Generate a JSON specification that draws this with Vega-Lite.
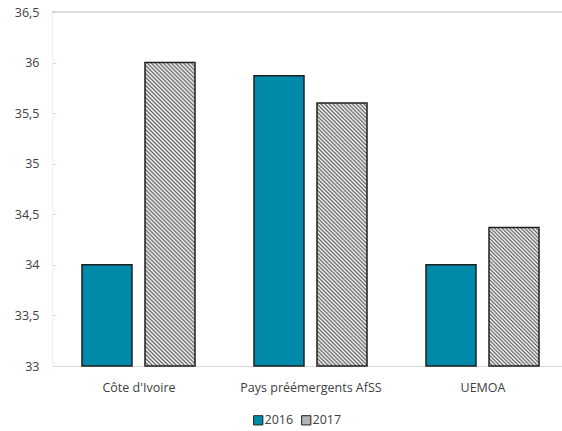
{
 "$schema": "https://vega.github.io/schema/vega-lite/v6.json",
 "width": 510,
 "height": 354,
 "autosize": {"type": "none"},
 "padding": {"left": 52, "top": 12, "right": 0, "bottom": 65},
 "background": "white",
 "config": {"view": {"stroke": null}, "font": "Open Sans", "axis": {"labelFont": "Open Sans", "labelFontSize": 12, "labelColor": "#404040"}, "legend": {"labelFont": "Open Sans"}},
 "data": {"values": [
  {"country": "Côte d'Ivoire", "year": "2016", "value": 34.0},
  {"country": "Côte d'Ivoire", "year": "2017", "value": 36.0},
  {"country": "Pays préémergents AfSS", "year": "2016", "value": 35.87},
  {"country": "Pays préémergents AfSS", "year": "2017", "value": 35.6},
  {"country": "UEMOA", "year": "2016", "value": 34.0},
  {"country": "UEMOA", "year": "2017", "value": 34.37}
 ]},
 "layer": [
  {
   "data": {"values": [{"level": 36.5}]},
   "mark": {"type": "rule", "color": "#bfbfbf", "strokeWidth": 1},
   "encoding": {"y": {"field": "level", "type": "quantitative", "scale": {"domain": [33, 36.5], "zero": false, "nice": false}}}
  },
  {
   "mark": {"type": "bar", "stroke": "#1f1f1f", "strokeWidth": 1.5},
   "encoding": {
    "x": {"field": "country", "type": "nominal", "sort": null, "scale": {"paddingInner": 0.343, "paddingOuter": 0.154, "align": 0.566},
          "axis": {"title": null, "labelAngle": 0, "domainColor": "#d9d9d9", "tickColor": "#d9d9d9", "tickBand": "extent", "tickSize": -8, "labelPadding": 23, "labelFontSize": 12.5}},
    "xOffset": {"field": "year", "type": "nominal", "scale": {"paddingInner": 0.2063, "paddingOuter": 0}},
    "y": {"field": "value", "type": "quantitative", "scale": {"domain": [33, 36.5], "zero": false, "nice": false},
          "axis": {"values": [33, 33.5, 34, 34.5, 35, 35.5, 36, 36.5], "labelExpr": "replace('' + datum.value, '.', ',')", "title": null, "grid": false, "domainColor": "#eeeeee", "tickColor": "#d9d9d9", "tickSize": -4, "labelPadding": 17, "labelFontSize": 12.5}},
    "y2": {"datum": 33},
    "fill": {
     "field": "year", "type": "nominal",
     "scale": {"domain": ["2016", "2017"], "range": ["#008AAA", "#b4b4b4"]},
     "legend": {"orient": "none", "legendX": 200, "legendY": 402, "direction": "horizontal", "title": null, "symbolType": "square", "symbolSize": 85, "symbolStrokeColor": "#1f1f1f", "symbolStrokeWidth": 1, "labelFontSize": 12.5, "labelColor": "#404040", "labelOffset": 0, "columnPadding": 5, "padding": 0},
     "condition": [
      {"test": "datum.year == '2017' && datum.country == 'UEMOA'", "value": {"gradient": "linear", "x1": 0, "y1": 1, "x2": 0.43446, "y2": -0.20406, "stops": [
       {"offset":0,"color":"#666"},{"offset":0.01,"color":"#fff"},{"offset":0.02,"color":"#666"},{"offset":0.03,"color":"#fff"},{"offset":0.04,"color":"#666"},{"offset":0.05,"color":"#fff"},{"offset":0.06,"color":"#666"},{"offset":0.07,"color":"#fff"},{"offset":0.08,"color":"#666"},{"offset":0.09,"color":"#fff"},
       {"offset":0.10,"color":"#666"},{"offset":0.11,"color":"#fff"},{"offset":0.12,"color":"#666"},{"offset":0.13,"color":"#fff"},{"offset":0.14,"color":"#666"},{"offset":0.15,"color":"#fff"},{"offset":0.16,"color":"#666"},{"offset":0.17,"color":"#fff"},{"offset":0.18,"color":"#666"},{"offset":0.19,"color":"#fff"},
       {"offset":0.20,"color":"#666"},{"offset":0.21,"color":"#fff"},{"offset":0.22,"color":"#666"},{"offset":0.23,"color":"#fff"},{"offset":0.24,"color":"#666"},{"offset":0.25,"color":"#fff"},{"offset":0.26,"color":"#666"},{"offset":0.27,"color":"#fff"},{"offset":0.28,"color":"#666"},{"offset":0.29,"color":"#fff"},
       {"offset":0.30,"color":"#666"},{"offset":0.31,"color":"#fff"},{"offset":0.32,"color":"#666"},{"offset":0.33,"color":"#fff"},{"offset":0.34,"color":"#666"},{"offset":0.35,"color":"#fff"},{"offset":0.36,"color":"#666"},{"offset":0.37,"color":"#fff"},{"offset":0.38,"color":"#666"},{"offset":0.39,"color":"#fff"},
       {"offset":0.40,"color":"#666"},{"offset":0.41,"color":"#fff"},{"offset":0.42,"color":"#666"},{"offset":0.43,"color":"#fff"},{"offset":0.44,"color":"#666"},{"offset":0.45,"color":"#fff"},{"offset":0.46,"color":"#666"},{"offset":0.47,"color":"#fff"},{"offset":0.48,"color":"#666"},{"offset":0.49,"color":"#fff"},
       {"offset":0.50,"color":"#666"},{"offset":0.51,"color":"#fff"},{"offset":0.52,"color":"#666"},{"offset":0.53,"color":"#fff"},{"offset":0.54,"color":"#666"},{"offset":0.55,"color":"#fff"},{"offset":0.56,"color":"#666"},{"offset":0.57,"color":"#fff"},{"offset":0.58,"color":"#666"},{"offset":0.59,"color":"#fff"},
       {"offset":0.60,"color":"#666"},{"offset":0.61,"color":"#fff"},{"offset":0.62,"color":"#666"},{"offset":0.63,"color":"#fff"},{"offset":0.64,"color":"#666"},{"offset":0.65,"color":"#fff"},{"offset":0.66,"color":"#666"},{"offset":0.67,"color":"#fff"},{"offset":0.68,"color":"#666"},{"offset":0.69,"color":"#fff"},
       {"offset":0.70,"color":"#666"},{"offset":0.71,"color":"#fff"},{"offset":0.72,"color":"#666"},{"offset":0.73,"color":"#fff"},{"offset":0.74,"color":"#666"},{"offset":0.75,"color":"#fff"},{"offset":0.76,"color":"#666"},{"offset":0.77,"color":"#fff"},{"offset":0.78,"color":"#666"},{"offset":0.79,"color":"#fff"},
       {"offset":0.80,"color":"#666"},{"offset":0.81,"color":"#fff"},{"offset":0.82,"color":"#666"},{"offset":0.83,"color":"#fff"},{"offset":0.84,"color":"#666"},{"offset":0.85,"color":"#fff"},{"offset":0.86,"color":"#666"},{"offset":0.87,"color":"#fff"},{"offset":0.88,"color":"#666"},{"offset":0.89,"color":"#fff"},
       {"offset":0.90,"color":"#666"},{"offset":0.91,"color":"#fff"},{"offset":0.92,"color":"#666"},{"offset":0.93,"color":"#fff"},{"offset":0.94,"color":"#666"},{"offset":0.95,"color":"#fff"},{"offset":0.96,"color":"#666"},{"offset":0.97,"color":"#fff"},{"offset":0.98,"color":"#666"},{"offset":0.99,"color":"#fff"},
       {"offset":1,"color":"#666"}]}},
      {"test": "datum.year == '2017' && datum.country == 'Pays préémergents AfSS'", "value": {"gradient": "linear", "x1": 0, "y1": 1, "x2": 0.21839, "y2": -0.14863, "stops": [
       {"offset":0,"color":"#666"},{"offset":0.00625,"color":"#fff"},{"offset":0.0125,"color":"#666"},{"offset":0.01875,"color":"#fff"},{"offset":0.025,"color":"#666"},{"offset":0.03125,"color":"#fff"},{"offset":0.0375,"color":"#666"},{"offset":0.04375,"color":"#fff"},
       {"offset":0.05,"color":"#666"},{"offset":0.05625,"color":"#fff"},{"offset":0.0625,"color":"#666"},{"offset":0.06875,"color":"#fff"},{"offset":0.075,"color":"#666"},{"offset":0.08125,"color":"#fff"},{"offset":0.0875,"color":"#666"},{"offset":0.09375,"color":"#fff"},
       {"offset":0.1,"color":"#666"},{"offset":0.10625,"color":"#fff"},{"offset":0.1125,"color":"#666"},{"offset":0.11875,"color":"#fff"},{"offset":0.125,"color":"#666"},{"offset":0.13125,"color":"#fff"},{"offset":0.1375,"color":"#666"},{"offset":0.14375,"color":"#fff"},
       {"offset":0.15,"color":"#666"},{"offset":0.15625,"color":"#fff"},{"offset":0.1625,"color":"#666"},{"offset":0.16875,"color":"#fff"},{"offset":0.175,"color":"#666"},{"offset":0.18125,"color":"#fff"},{"offset":0.1875,"color":"#666"},{"offset":0.19375,"color":"#fff"},
       {"offset":0.2,"color":"#666"},{"offset":0.20625,"color":"#fff"},{"offset":0.2125,"color":"#666"},{"offset":0.21875,"color":"#fff"},{"offset":0.225,"color":"#666"},{"offset":0.23125,"color":"#fff"},{"offset":0.2375,"color":"#666"},{"offset":0.24375,"color":"#fff"},
       {"offset":0.25,"color":"#666"},{"offset":0.25625,"color":"#fff"},{"offset":0.2625,"color":"#666"},{"offset":0.26875,"color":"#fff"},{"offset":0.275,"color":"#666"},{"offset":0.28125,"color":"#fff"},{"offset":0.2875,"color":"#666"},{"offset":0.29375,"color":"#fff"},
       {"offset":0.3,"color":"#666"},{"offset":0.30625,"color":"#fff"},{"offset":0.3125,"color":"#666"},{"offset":0.31875,"color":"#fff"},{"offset":0.325,"color":"#666"},{"offset":0.33125,"color":"#fff"},{"offset":0.3375,"color":"#666"},{"offset":0.34375,"color":"#fff"},
       {"offset":0.35,"color":"#666"},{"offset":0.35625,"color":"#fff"},{"offset":0.3625,"color":"#666"},{"offset":0.36875,"color":"#fff"},{"offset":0.375,"color":"#666"},{"offset":0.38125,"color":"#fff"},{"offset":0.3875,"color":"#666"},{"offset":0.39375,"color":"#fff"},
       {"offset":0.4,"color":"#666"},{"offset":0.40625,"color":"#fff"},{"offset":0.4125,"color":"#666"},{"offset":0.41875,"color":"#fff"},{"offset":0.425,"color":"#666"},{"offset":0.43125,"color":"#fff"},{"offset":0.4375,"color":"#666"},{"offset":0.44375,"color":"#fff"},
       {"offset":0.45,"color":"#666"},{"offset":0.45625,"color":"#fff"},{"offset":0.4625,"color":"#666"},{"offset":0.46875,"color":"#fff"},{"offset":0.475,"color":"#666"},{"offset":0.48125,"color":"#fff"},{"offset":0.4875,"color":"#666"},{"offset":0.49375,"color":"#fff"},
       {"offset":0.5,"color":"#666"},{"offset":0.50625,"color":"#fff"},{"offset":0.5125,"color":"#666"},{"offset":0.51875,"color":"#fff"},{"offset":0.525,"color":"#666"},{"offset":0.53125,"color":"#fff"},{"offset":0.5375,"color":"#666"},{"offset":0.54375,"color":"#fff"},
       {"offset":0.55,"color":"#666"},{"offset":0.55625,"color":"#fff"},{"offset":0.5625,"color":"#666"},{"offset":0.56875,"color":"#fff"},{"offset":0.575,"color":"#666"},{"offset":0.58125,"color":"#fff"},{"offset":0.5875,"color":"#666"},{"offset":0.59375,"color":"#fff"},
       {"offset":0.6,"color":"#666"},{"offset":0.60625,"color":"#fff"},{"offset":0.6125,"color":"#666"},{"offset":0.61875,"color":"#fff"},{"offset":0.625,"color":"#666"},{"offset":0.63125,"color":"#fff"},{"offset":0.6375,"color":"#666"},{"offset":0.64375,"color":"#fff"},
       {"offset":0.65,"color":"#666"},{"offset":0.65625,"color":"#fff"},{"offset":0.6625,"color":"#666"},{"offset":0.66875,"color":"#fff"},{"offset":0.675,"color":"#666"},{"offset":0.68125,"color":"#fff"},{"offset":0.6875,"color":"#666"},{"offset":0.69375,"color":"#fff"},
       {"offset":0.7,"color":"#666"},{"offset":0.70625,"color":"#fff"},{"offset":0.7125,"color":"#666"},{"offset":0.71875,"color":"#fff"},{"offset":0.725,"color":"#666"},{"offset":0.73125,"color":"#fff"},{"offset":0.7375,"color":"#666"},{"offset":0.74375,"color":"#fff"},
       {"offset":0.75,"color":"#666"},{"offset":0.75625,"color":"#fff"},{"offset":0.7625,"color":"#666"},{"offset":0.76875,"color":"#fff"},{"offset":0.775,"color":"#666"},{"offset":0.78125,"color":"#fff"},{"offset":0.7875,"color":"#666"},{"offset":0.79375,"color":"#fff"},
       {"offset":0.8,"color":"#666"},{"offset":0.80625,"color":"#fff"},{"offset":0.8125,"color":"#666"},{"offset":0.81875,"color":"#fff"},{"offset":0.825,"color":"#666"},{"offset":0.83125,"color":"#fff"},{"offset":0.8375,"color":"#666"},{"offset":0.84375,"color":"#fff"},
       {"offset":0.85,"color":"#666"},{"offset":0.85625,"color":"#fff"},{"offset":0.8625,"color":"#666"},{"offset":0.86875,"color":"#fff"},{"offset":0.875,"color":"#666"},{"offset":0.88125,"color":"#fff"},{"offset":0.8875,"color":"#666"},{"offset":0.89375,"color":"#fff"},
       {"offset":0.9,"color":"#666"},{"offset":0.90625,"color":"#fff"},{"offset":0.9125,"color":"#666"},{"offset":0.91875,"color":"#fff"},{"offset":0.925,"color":"#666"},{"offset":0.93125,"color":"#fff"},{"offset":0.9375,"color":"#666"},{"offset":0.94375,"color":"#fff"},
       {"offset":0.95,"color":"#666"},{"offset":0.95625,"color":"#fff"},{"offset":0.9625,"color":"#666"},{"offset":0.96875,"color":"#fff"},{"offset":0.975,"color":"#666"},{"offset":0.98125,"color":"#fff"},{"offset":0.9875,"color":"#666"},{"offset":0.99375,"color":"#fff"},
       {"offset":1,"color":"#666"}]}},
      {"test": "datum.year == '2017' && indexof(datum.country, 'Ivoire') >= 0", "value": {"gradient": "linear", "x1": 0, "y1": 1, "x2": 0.18686, "y2": -0.13399, "stops": [
       {"offset":0,"color":"#666"},{"offset":0.0057,"color":"#fff"},{"offset":0.0114,"color":"#666"},{"offset":0.0170,"color":"#fff"},{"offset":0.0227,"color":"#666"},{"offset":0.0284,"color":"#fff"},{"offset":0.0341,"color":"#666"},{"offset":0.0398,"color":"#fff"},
       {"offset":0.0455,"color":"#666"},{"offset":0.0511,"color":"#fff"},{"offset":0.0568,"color":"#666"},{"offset":0.0625,"color":"#fff"},{"offset":0.0682,"color":"#666"},{"offset":0.0739,"color":"#fff"},{"offset":0.0795,"color":"#666"},{"offset":0.0852,"color":"#fff"},
       {"offset":0.0909,"color":"#666"},{"offset":0.0966,"color":"#fff"},{"offset":0.1023,"color":"#666"},{"offset":0.1080,"color":"#fff"},{"offset":0.1136,"color":"#666"},{"offset":0.1193,"color":"#fff"},{"offset":0.1250,"color":"#666"},{"offset":0.1307,"color":"#fff"},
       {"offset":0.1364,"color":"#666"},{"offset":0.1420,"color":"#fff"},{"offset":0.1477,"color":"#666"},{"offset":0.1534,"color":"#fff"},{"offset":0.1591,"color":"#666"},{"offset":0.1648,"color":"#fff"},{"offset":0.1705,"color":"#666"},{"offset":0.1761,"color":"#fff"},
       {"offset":0.1818,"color":"#666"},{"offset":0.1875,"color":"#fff"},{"offset":0.1932,"color":"#666"},{"offset":0.1989,"color":"#fff"},{"offset":0.2045,"color":"#666"},{"offset":0.2102,"color":"#fff"},{"offset":0.2159,"color":"#666"},{"offset":0.2216,"color":"#fff"},
       {"offset":0.2273,"color":"#666"},{"offset":0.2330,"color":"#fff"},{"offset":0.2386,"color":"#666"},{"offset":0.2443,"color":"#fff"},{"offset":0.2500,"color":"#666"},{"offset":0.2557,"color":"#fff"},{"offset":0.2614,"color":"#666"},{"offset":0.2670,"color":"#fff"},
       {"offset":0.2727,"color":"#666"},{"offset":0.2784,"color":"#fff"},{"offset":0.2841,"color":"#666"},{"offset":0.2898,"color":"#fff"},{"offset":0.2955,"color":"#666"},{"offset":0.3011,"color":"#fff"},{"offset":0.3068,"color":"#666"},{"offset":0.3125,"color":"#fff"},
       {"offset":0.3182,"color":"#666"},{"offset":0.3239,"color":"#fff"},{"offset":0.3295,"color":"#666"},{"offset":0.3352,"color":"#fff"},{"offset":0.3409,"color":"#666"},{"offset":0.3466,"color":"#fff"},{"offset":0.3523,"color":"#666"},{"offset":0.3580,"color":"#fff"},
       {"offset":0.3636,"color":"#666"},{"offset":0.3693,"color":"#fff"},{"offset":0.3750,"color":"#666"},{"offset":0.3807,"color":"#fff"},{"offset":0.3864,"color":"#666"},{"offset":0.3920,"color":"#fff"},{"offset":0.3977,"color":"#666"},{"offset":0.4034,"color":"#fff"},
       {"offset":0.4091,"color":"#666"},{"offset":0.4148,"color":"#fff"},{"offset":0.4205,"color":"#666"},{"offset":0.4261,"color":"#fff"},{"offset":0.4318,"color":"#666"},{"offset":0.4375,"color":"#fff"},{"offset":0.4432,"color":"#666"},{"offset":0.4489,"color":"#fff"},
       {"offset":0.4545,"color":"#666"},{"offset":0.4602,"color":"#fff"},{"offset":0.4659,"color":"#666"},{"offset":0.4716,"color":"#fff"},{"offset":0.4773,"color":"#666"},{"offset":0.4830,"color":"#fff"},{"offset":0.4886,"color":"#666"},{"offset":0.4943,"color":"#fff"},
       {"offset":0.5000,"color":"#666"},{"offset":0.5057,"color":"#fff"},{"offset":0.5114,"color":"#666"},{"offset":0.5170,"color":"#fff"},{"offset":0.5227,"color":"#666"},{"offset":0.5284,"color":"#fff"},{"offset":0.5341,"color":"#666"},{"offset":0.5398,"color":"#fff"},
       {"offset":0.5455,"color":"#666"},{"offset":0.5511,"color":"#fff"},{"offset":0.5568,"color":"#666"},{"offset":0.5625,"color":"#fff"},{"offset":0.5682,"color":"#666"},{"offset":0.5739,"color":"#fff"},{"offset":0.5795,"color":"#666"},{"offset":0.5852,"color":"#fff"},
       {"offset":0.5909,"color":"#666"},{"offset":0.5966,"color":"#fff"},{"offset":0.6023,"color":"#666"},{"offset":0.6080,"color":"#fff"},{"offset":0.6136,"color":"#666"},{"offset":0.6193,"color":"#fff"},{"offset":0.6250,"color":"#666"},{"offset":0.6307,"color":"#fff"},
       {"offset":0.6364,"color":"#666"},{"offset":0.6420,"color":"#fff"},{"offset":0.6477,"color":"#666"},{"offset":0.6534,"color":"#fff"},{"offset":0.6591,"color":"#666"},{"offset":0.6648,"color":"#fff"},{"offset":0.6705,"color":"#666"},{"offset":0.6761,"color":"#fff"},
       {"offset":0.6818,"color":"#666"},{"offset":0.6875,"color":"#fff"},{"offset":0.6932,"color":"#666"},{"offset":0.6989,"color":"#fff"},{"offset":0.7045,"color":"#666"},{"offset":0.7102,"color":"#fff"},{"offset":0.7159,"color":"#666"},{"offset":0.7216,"color":"#fff"},
       {"offset":0.7273,"color":"#666"},{"offset":0.7330,"color":"#fff"},{"offset":0.7386,"color":"#666"},{"offset":0.7443,"color":"#fff"},{"offset":0.7500,"color":"#666"},{"offset":0.7557,"color":"#fff"},{"offset":0.7614,"color":"#666"},{"offset":0.7670,"color":"#fff"},
       {"offset":0.7727,"color":"#666"},{"offset":0.7784,"color":"#fff"},{"offset":0.7841,"color":"#666"},{"offset":0.7898,"color":"#fff"},{"offset":0.7955,"color":"#666"},{"offset":0.8011,"color":"#fff"},{"offset":0.8068,"color":"#666"},{"offset":0.8125,"color":"#fff"},
       {"offset":0.8182,"color":"#666"},{"offset":0.8239,"color":"#fff"},{"offset":0.8295,"color":"#666"},{"offset":0.8352,"color":"#fff"},{"offset":0.8409,"color":"#666"},{"offset":0.8466,"color":"#fff"},{"offset":0.8523,"color":"#666"},{"offset":0.8580,"color":"#fff"},
       {"offset":0.8636,"color":"#666"},{"offset":0.8693,"color":"#fff"},{"offset":0.8750,"color":"#666"},{"offset":0.8807,"color":"#fff"},{"offset":0.8864,"color":"#666"},{"offset":0.8920,"color":"#fff"},{"offset":0.8977,"color":"#666"},{"offset":0.9034,"color":"#fff"},
       {"offset":0.9091,"color":"#666"},{"offset":0.9148,"color":"#fff"},{"offset":0.9205,"color":"#666"},{"offset":0.9261,"color":"#fff"},{"offset":0.9318,"color":"#666"},{"offset":0.9375,"color":"#fff"},{"offset":0.9432,"color":"#666"},{"offset":0.9489,"color":"#fff"},
       {"offset":0.9545,"color":"#666"},{"offset":0.9602,"color":"#fff"},{"offset":0.9659,"color":"#666"},{"offset":0.9716,"color":"#fff"},{"offset":0.9773,"color":"#666"},{"offset":0.9830,"color":"#fff"},{"offset":0.9886,"color":"#666"},{"offset":0.9943,"color":"#fff"},
       {"offset":1,"color":"#666"}]}}
     ]
    }
   }
  }
 ]
}
